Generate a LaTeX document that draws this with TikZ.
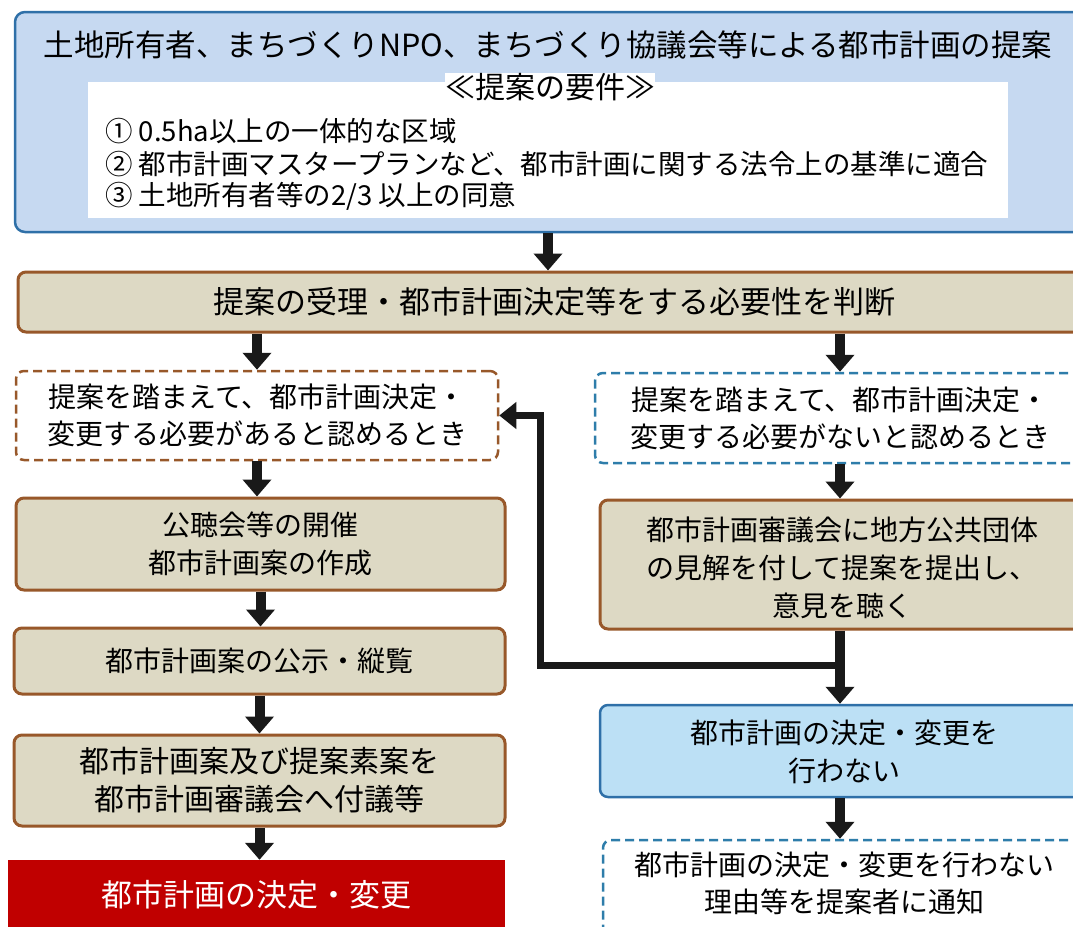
\documentclass[tikz,border=0pt]{standalone}
\usepackage{fontspec}
\setmainfont{Noto Sans CJK JP}
\usetikzlibrary{arrows.meta,calc}
\definecolor{topfill}{HTML}{C6D9F1}
\definecolor{topdraw}{HTML}{2F70A8}
\definecolor{tanfill}{HTML}{DDD9C4}
\definecolor{tandraw}{HTML}{98582A}
\definecolor{bluefill}{HTML}{BCE0F5}
\definecolor{dashblue}{HTML}{2E7DAA}
\definecolor{redfill}{HTML}{C00000}
\newcommand{\fs}[2]{\fontsize{#1}{#2}\selectfont}
\tikzset{
  box/.style={rectangle, rounded corners=8pt, inner sep=0pt, align=center, text=black},
  tanbox/.style={box, fill=tanfill, draw=tandraw, line width=3pt},
  dashbrown/.style={box, fill=white, draw=tandraw, line width=2.5pt, dash pattern=on 9pt off 5pt},
  dashbl/.style={box, fill=white, draw=dashblue, line width=2.5pt, dash pattern=on 9pt off 5pt},
  txt/.style={inner sep=0pt, align=center},
  arr/.style={line width=10pt, draw=black!90, -{Triangle[width=28pt,length=17pt]}},
  connarr/.style={line width=7pt, draw=black!90, -{Triangle[width=26pt,length=17pt]}},
}
\begin{document}
\begin{tikzpicture}[x=1pt,y=-1pt]
\useasboundingbox (0,0) rectangle (1073,926);
\clip (0,0) rectangle (1073,926);
\fill[white] (0,0) rectangle (1073,926);
% top box
\node[box, rounded corners=10pt, fill=topfill, draw=topdraw, line width=2.5pt, minimum width=1070pt, minimum height=220pt] (top) at (550,122) {};
\node[txt, font=\fs{30.5}{36}] (title) at (548,45) {土地所有者、まちづくりNPO、まちづくり協議会等による都市計画の提案};
\node[rectangle, fill=white, minimum width=920pt, minimum height=136pt, inner sep=0pt] (req) at (548,150) {};
\node[txt, fill=white, font=\fs{30}{34}] (reqtitle) at (550,87) {≪提案の要件≫};
\node[txt, anchor=west, font=\fs{27.5}{30}] (i1) at (105,131) {① 0.5ha以上の一体的な区域};
\node[txt, anchor=west, font=\fs{27.5}{30}] (i2) at (105,164) {② 都市計画マスタープランなど、都市計画に関する法令上の基準に適合};
\node[txt, anchor=west, font=\fs{27.5}{30}] (i3) at (105,196) {③ 土地所有者等の2/3 以上の同意};
% judge
\node[tanbox, minimum width=1072pt, minimum height=60pt, font=\fs{31}{36}] (judge) at (554,302) {提案の受理・都市計画決定等をする必要性を判断};
% left column
\node[dashbrown, minimum width=482pt, minimum height=89pt, font=\fs{28}{37}] (yes) at (257,415.5) {提案を踏まえて、都市計画決定・\\変更する必要があると認めるとき};
\node[tanbox, minimum width=489pt, minimum height=92pt, font=\fs{28}{38}] (b2) at (260.5,544) {公聴会等の開催\\都市計画案の作成};
\node[tanbox, minimum width=491pt, minimum height=66pt, font=\fs{28}{36}] (b3) at (259.5,661) {都市計画案の公示・縦覧};
\node[tanbox, minimum width=491pt, minimum height=91pt, font=\fs{30}{38}] (b4) at (259.5,780.5) {都市計画案及び提案素案を\\都市計画審議会へ付議等};
\node[rectangle, fill=redfill, minimum width=497pt, minimum height=70pt, inner sep=0pt, text=white, font=\fs{31}{36}] (dec) at (256.5,895) {都市計画の決定・変更};
% right column
\node[dashbl, minimum width=495pt, minimum height=90pt] (no) at (842.5,418) {};
\node[txt, font=\fs{28}{37}] (notext) at (840,418) {提案を踏まえて、都市計画決定・\\変更する必要がないと認めるとき};
\node[tanbox, minimum width=490pt, minimum height=129pt] (r2) at (845,564.5) {};
\node[txt, font=\fs{28}{38}] (r2text) at (842,568) {都市計画審議会に地方公共団体\\の見解を付して提案を提出し、\\意見を聴く};
\node[box, fill=bluefill, draw=topdraw, line width=2.5pt, minimum width=490pt, minimum height=92pt] (nodec) at (845,751) {};
\node[txt, font=\fs{28}{38}] (nodectext) at (844,752) {都市計画の決定・変更を\\行わない};
\node[dashbl, minimum width=487pt, minimum height=120pt] (notify) at (846.5,900) {};
\node[txt, font=\fs{28}{37}] (notifytext) at (844,883) {都市計画の決定・変更を行わない\\理由等を提案者に通知};
% connectors
\draw[arr] (top.south -| title.south) -- (judge.north -| title.south);
\draw[arr] (judge.south -| yes.north) -- (yes.north);
\draw[arr] (judge.south -| notext.north) -- (no.north -| notext.north);
\draw[arr] (yes.south) -- (yes.south |- b2.north);
\draw[arr] (b2.south) -- (b2.south |- b3.north);
\draw[arr] (b3.south) -- (b3.south |- b4.north);
\draw[arr] (b4.south) -- (b4.south |- dec.north);
\draw[arr] (no.south -| notext.south) -- (r2.north -| notext.south);
\draw[arr] (r2.south -| notext.south) -- (nodec.north -| notext.south);
\draw[arr] (nodec.south -| notext.south) -- (notify.north -| notext.south);
\coordinate (j) at (843,665);
\coordinate (k) at (540,665);
\draw[connarr] (j) -- (k) |- (yes.east);
\end{tikzpicture}
\end{document}
